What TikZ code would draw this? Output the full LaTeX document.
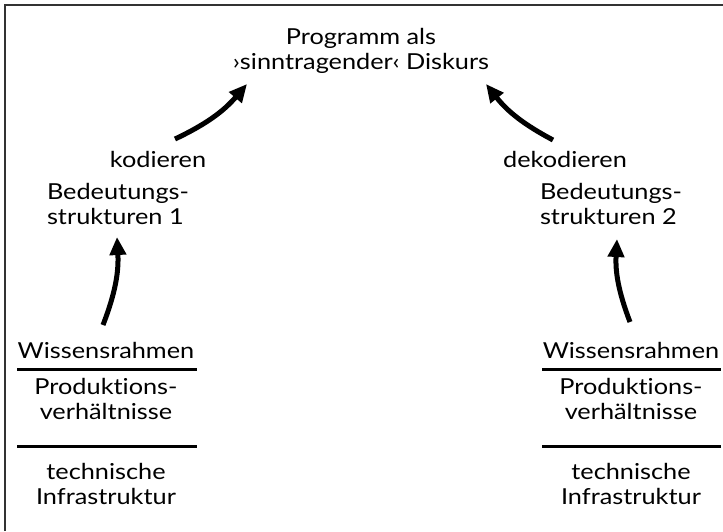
\documentclass[tikz,border=0pt]{standalone}
\usepackage{fontspec}
\setmainfont[FakeStretch=1.15, Ligatures=NoCommon]{Lato}
\usetikzlibrary{positioning, arrows.meta}

\begin{document}
\begin{tikzpicture}[x=0.5pt, y=-0.5pt,
  main node/.style={font=\fontsize{11}{12.5}\selectfont, align=center, inner sep=0pt},
  stack node/.style={main node, text width=90pt},
  flow/.style={line width=2.5pt, -{Triangle[length=9pt,width=8pt]}},
  rule/.style={line width=1.5pt},
  frame/.style={line width=1pt, black!80}]

\useasboundingbox (0,0) rectangle (723,531);
\draw[frame] (5,531) -- (5,5) -- (723,5);

\node[main node] (disk) at (361,51) {Programm als\\›sinntragender‹ Diskurs};
\node[main node] (kod) at (158,159) {kodieren};
\node[main node] (dekod) at (565,159) {dekodieren};
\node[main node, align=left] (bed1) at (118,204) {Bedeutungs-\\strukturen 1};
\node[main node, align=left] (bed2) at (611,204) {Bedeutungs-\\strukturen 2};

% left stack
\node[stack node] (wiss1) at (106,350) {Wissensrahmen};
\node[stack node] (prod1) [below of=wiss1, node distance=24.5pt] {Produktions-\\verhältnisse};
\node[stack node] (tech1) [below of=prod1, node distance=42.5pt] {technische\\Infrastruktur};

% right stack
\node[stack node] (wiss2) [right of=wiss1, node distance=262.5pt] {Wissensrahmen};
\node[stack node] (prod2) [right of=prod1, node distance=262.5pt] {Produktions-\\verhältnisse};
\node[stack node] (tech2) [right of=tech1, node distance=262.5pt] {technische\\Infrastruktur};

\draw[rule] ([shift={(-89,19)}]wiss1.center) -- ([shift={(91,19)}]wiss1.center);
\draw[rule] ([shift={(-89,-38)}]tech1.center) -- ([shift={(91,-38)}]tech1.center);
\draw[rule] ([shift={(-89,19)}]wiss2.center) -- ([shift={(90,19)}]wiss2.center);
\draw[rule] ([shift={(-89,-38)}]tech2.center) -- ([shift={(90,-38)}]tech2.center);

\draw[flow] ([shift={(-3,-25)}]wiss1.center) to[bend right=12] ([shift={(-1,33)}]bed1.center);
\draw[flow] ([shift={(-1,-28)}]wiss2.center) to[bend left=12] ([shift={(6,35)}]bed2.center);
\draw[flow] ([shift={(17,-20)}]kod.center) to[bend right=12] ([shift={(-114,33)}]disk.center);
\draw[flow] ([shift={(-12,-19)}]dekod.center) to[bend left=12] ([shift={(125,33)}]disk.center);

\end{tikzpicture}
\end{document}
